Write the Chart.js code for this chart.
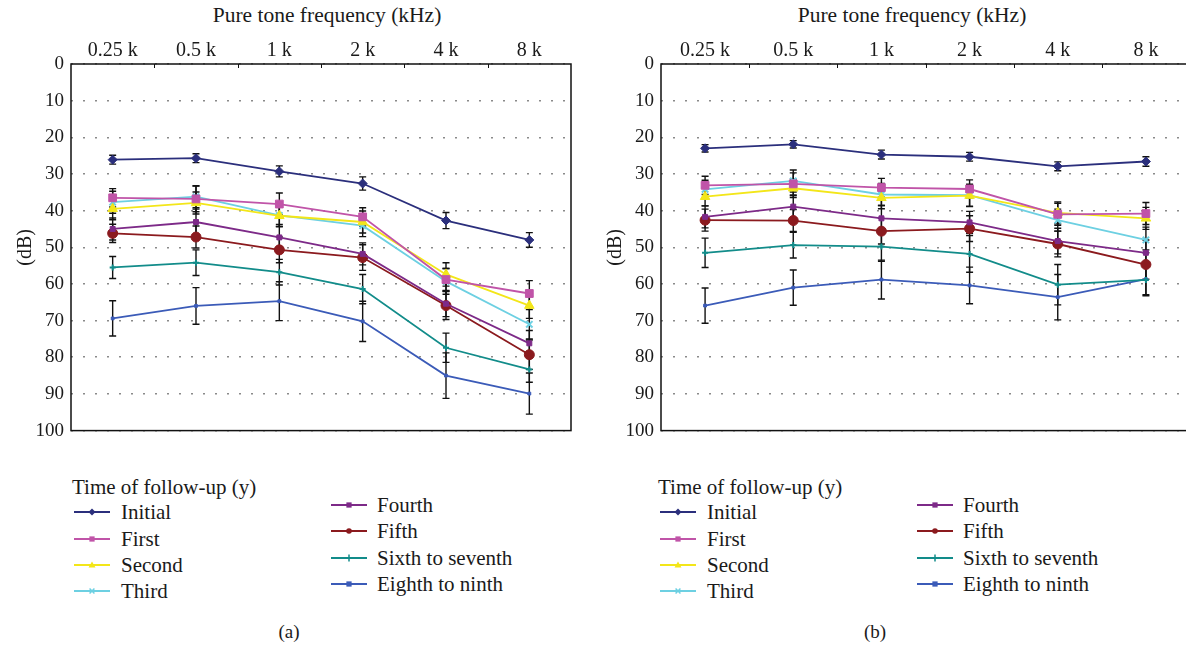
<!DOCTYPE html>
<html lang="en">
<head>
<meta charset="UTF-8">
<title>Pure tone thresholds by follow-up</title>
<script src="https://cdn.jsdelivr.net/npm/chart.js"></script>
<style>
    body { margin: 0; width: 1186px; height: 646px; overflow: hidden; background: #fff;
           font-family: "Liberation Serif", "DejaVu Serif", serif; color: #1a1a1a; position: relative; }
    canvas { position: absolute; top: 0; }
    #chartA { left: 0; }
    #chartB { left: 590px; }
    .axis-title { position: absolute; top: 3px; font-size: 21.5px; transform: translateX(-50%); white-space: nowrap; }
    .legend { position: absolute; top: 0; left: 0; }
    .leg-title, .leg-item, .caption { position: absolute; font-size: 21px; line-height: 24px; white-space: nowrap; }
    .leg-item canvas { position: absolute; top: 6px; }
    .caption { transform: translateX(-50%); font-size: 19px; }
</style>
</head>
<body>
<div class="axis-title" style="left:327px">Pure tone frequency (kHz)</div>
<div class="axis-title" style="left:912px">Pure tone frequency (kHz)</div>
<canvas id="chartA" width="600" height="449"></canvas>
<canvas id="chartB" width="610" height="449"></canvas>
<div id="legendA" class="legend"></div>
<div id="legendB" class="legend"></div>
<div class="caption" style="left:289px; top:620px">(a)</div>
<div class="caption" style="left:875px; top:620px">(b)</div>

<script>
// categories
const freqLabels = ['0.25 k', '0.5 k', '1 k', '2 k', '4 k', '8 k'];
const seriesNames = ['Initial', 'First', 'Second', 'Third', 'Fourth', 'Fifth', 'Sixth to seventh', 'Eighth to ninth'];

// panel (a) means (dB)
const aInitial = [26.1, 25.7, 29.3, 32.6, 42.7, 48.0];
const aFirst   = [36.5, 36.8, 38.2, 41.7, 58.8, 62.6];
const aSecond  = [39.5, 37.9, 41.4, 43.1, 57.4, 65.9];
const aThird   = [37.7, 36.2, 41.3, 44.1, 59.3, 71.0];
const aFourth  = [45.0, 43.1, 47.3, 51.8, 65.4, 76.2];
const aFifth   = [46.2, 47.2, 50.7, 52.8, 65.9, 79.3];
const aSixth   = [55.5, 54.2, 56.8, 61.4, 77.4, 83.3];
const aEighth  = [69.4, 66.0, 64.7, 70.2, 85.0, 89.9];
// panel (a) error bars (+/-)
const aInitialErr = [1.2, 1.2, 1.5, 1.8, 2.2, 2.0];
const aFirstErr   = [2.5, 3.5, 3.0, 2.5, 3.0, 3.5];
const aSecondErr  = [3.0, 3.0, 3.0, 3.0, 3.2, 3.5];
const aThirdErr   = [3.0, 3.0, 3.0, 3.0, 3.5, 4.0];
const aFourthErr  = [3.0, 3.5, 3.5, 3.0, 3.5, 3.5];
const aFifthErr   = [2.5, 3.0, 3.5, 3.5, 3.8, 4.0];
const aSixthErr   = [3.0, 3.5, 3.5, 4.0, 4.0, 3.5];
const aEighthErr  = [4.8, 5.0, 5.3, 5.5, 6.2, 5.6];

// panel (b) means (dB)
const bInitial = [23.0, 21.9, 24.7, 25.3, 27.9, 26.6];
const bFirst   = [33.1, 32.7, 33.7, 34.1, 41.0, 40.8];
const bSecond  = [36.2, 33.9, 36.5, 35.9, 40.6, 42.1];
const bThird   = [34.2, 31.9, 35.6, 35.8, 42.6, 48.0];
const bFourth  = [41.7, 38.9, 42.1, 43.2, 48.3, 51.5];
const bFifth   = [42.6, 42.7, 45.6, 44.9, 49.1, 54.7];
const bSixth   = [51.5, 49.4, 49.8, 51.8, 60.2, 58.9];
const bEighth  = [65.9, 61.0, 58.8, 60.4, 63.6, 58.7];
// panel (b) error bars (+/-)
const bInitialErr = [1.0, 1.0, 1.2, 1.2, 1.2, 1.3];
const bFirstErr   = [2.5, 3.0, 2.5, 2.5, 3.0, 3.0];
const bSecondErr  = [2.5, 2.5, 3.0, 3.0, 3.0, 3.0];
const bThirdErr   = [2.5, 3.0, 3.0, 3.0, 3.0, 3.5];
const bFourthErr  = [3.0, 3.0, 3.5, 3.0, 3.5, 3.5];
const bFifthErr   = [3.0, 3.0, 3.5, 3.5, 3.5, 4.0];
const bSixthErr   = [4.0, 3.5, 4.0, 5.0, 5.5, 4.0];
const bEighthErr  = [4.8, 4.8, 5.3, 5.0, 6.2, 4.5];

// series styles
const colors = ['#2b2f7c', '#c054a8', '#f3e619', '#6dd0e2', '#7d2a88', '#8b1a1e', '#128c8a', '#3b5bb8'];
const pointStyles = ['rectRot', 'rect', 'triangle', 'crossRot', 'rect', 'circle', 'cross', 'rect'];
const pointSizes = [4.5, 5.5, 5.5, 4.5, 3.5, 5, 3, 2];

const serif = 'Liberation Serif';

// error bars + frame + top ticks
const framePlugin = {
    id: 'frame',
    beforeDatasetsDraw(chart) {
        const ctx = chart.ctx;
        const yScale = chart.scales.y;
        ctx.save();
        ctx.strokeStyle = '#111';
        ctx.lineWidth = 1.4;
        chart.data.datasets.forEach((ds, i) => {
            const meta = chart.getDatasetMeta(i);
            ds.errors.forEach((e, j) => {
                const x = meta.data[j].x;
                const y1 = yScale.getPixelForValue(ds.data[j] - e);
                const y2 = yScale.getPixelForValue(ds.data[j] + e);
                ctx.beginPath();
                ctx.moveTo(x, y1); ctx.lineTo(x, y2);
                ctx.moveTo(x - 3.5, y1); ctx.lineTo(x + 3.5, y1);
                ctx.moveTo(x - 3.5, y2); ctx.lineTo(x + 3.5, y2);
                ctx.stroke();
            });
        });
        ctx.restore();
    },
    afterDraw(chart) {
        const ctx = chart.ctx;
        const a = chart.chartArea;
        const xs = chart.scales.x;
        ctx.save();
        ctx.strokeStyle = '#111';
        ctx.lineWidth = 1.5;
        ctx.strokeRect(a.left, a.top, a.right - a.left, a.bottom - a.top);
        ctx.lineWidth = 1;
        ctx.beginPath();
        for (let i = 1; i < freqLabels.length; i++) {
            const x = Math.round((xs.getPixelForTick(i - 1) + xs.getPixelForTick(i)) / 2) + 0.5;
            ctx.moveTo(x, a.top); ctx.lineTo(x, a.top + 4);
        }
        ctx.stroke();
        ctx.restore();
    }
};

function makeChart(id, means, errs, padRight) {
    const datasets = means.map((m, i) => ({
        label: seriesNames[i],
        data: m,
        errors: errs[i],
        borderColor: colors[i],
        backgroundColor: colors[i],
        borderWidth: 1.8,
        pointStyle: pointStyles[i],
        pointRadius: pointSizes[i],
        pointBorderWidth: pointStyles[i].startsWith('cross') ? 2 : 1,
        tension: 0
    }));
    return new Chart(document.getElementById(id), {
        type: 'line',
        data: { labels: freqLabels, datasets: datasets },
        options: {
            responsive: false,
            animation: false,
            devicePixelRatio: 1,
            layout: { padding: { top: 0, right: padRight, bottom: 0, left: 0 } },
            plugins: { legend: { display: false }, tooltip: { enabled: false } },
            scales: {
                x: {
                    type: 'category',
                    position: 'top',
                    offset: true,
                    grid: { display: false },
                    border: { display: false },
                    ticks: { color: '#1a1a1a', font: { family: serif, size: 20 }, padding: -7, maxRotation: 0, autoSkip: false },
                    afterFit(s) { s.height = 64; }
                },
                y: {
                    min: 0, max: 100, reverse: true,
                    ticks: { stepSize: 10, color: '#1a1a1a', font: { family: serif, size: 19 }, padding: 7 },
                    grid: { color: '#8a8a8a', lineWidth: 1.6, drawTicks: false },
                    border: { display: false, dash: [2, 10] },
                    title: { display: true, text: '(dB)', color: '#1a1a1a', font: { family: serif, size: 20 }, padding: { top: 14 } },
                    afterFit(s) { s.width = 71; }
                }
            }
        },
        plugins: [framePlugin]
    });
}

makeChart('chartA',
    [aInitial, aFirst, aSecond, aThird, aFourth, aFifth, aSixth, aEighth],
    [aInitialErr, aFirstErr, aSecondErr, aThirdErr, aFourthErr, aFifthErr, aSixthErr, aEighthErr], 29);
makeChart('chartB',
    [bInitial, bFirst, bSecond, bThird, bFourth, bFifth, bSixth, bEighth],
    [bInitialErr, bFirstErr, bSecondErr, bThirdErr, bFourthErr, bFifthErr, bSixthErr, bEighthErr], 10);

// legend sample marker
function drawMarker(ctx, style, x, y, r, color) {
    ctx.fillStyle = color; ctx.strokeStyle = color; ctx.lineWidth = 1.5;
    ctx.beginPath();
    if (style === 'rectRot') { ctx.moveTo(x, y - r); ctx.lineTo(x + r, y); ctx.lineTo(x, y + r); ctx.lineTo(x - r, y); ctx.closePath(); ctx.fill(); }
    else if (style === 'rect') { ctx.rect(x - r * 0.75, y - r * 0.75, r * 1.5, r * 1.5); ctx.fill(); }
    else if (style === 'triangle') { ctx.moveTo(x, y - r); ctx.lineTo(x + r, y + r * 0.7); ctx.lineTo(x - r, y + r * 0.7); ctx.closePath(); ctx.fill(); }
    else if (style === 'circle') { ctx.arc(x, y, r * 0.8, 0, Math.PI * 2); ctx.fill(); }
    else if (style === 'crossRot') { ctx.moveTo(x - r * 0.7, y - r * 0.7); ctx.lineTo(x + r * 0.7, y + r * 0.7); ctx.moveTo(x + r * 0.7, y - r * 0.7); ctx.lineTo(x - r * 0.7, y + r * 0.7); ctx.stroke(); }
    else if (style === 'cross') { ctx.moveTo(x - r, y); ctx.lineTo(x + r, y); ctx.moveTo(x, y - r); ctx.lineTo(x, y + r); ctx.stroke(); }
}

// column-first legend, two columns
const legCol1Y = [512, 539, 565, 591];
const legCol2Y = [505, 531, 558, 584];
function buildLegend(id, dx) {
    const box = document.getElementById(id);
    const t = document.createElement('div');
    t.className = 'leg-title';
    t.style.left = (72 + dx) + 'px';
    t.style.top = (487 - 12) + 'px';
    t.textContent = 'Time of follow-up (y)';
    box.appendChild(t);
    seriesNames.forEach((name, i) => {
        const col2 = i >= 4;
        const cy = col2 ? legCol2Y[i - 4] : legCol1Y[i];
        const sx = (col2 ? 331 : 74) + dx;
        const tx = (col2 ? 377 : 121) + dx;
        const c = document.createElement('canvas');
        c.width = 36; c.height = 12;
        c.style.left = sx + 'px';
        c.style.top = (cy - 6) + 'px';
        const ctx = c.getContext('2d');
        ctx.strokeStyle = colors[i]; ctx.lineWidth = 2;
        ctx.beginPath(); ctx.moveTo(0, 6); ctx.lineTo(36, 6); ctx.stroke();
        drawMarker(ctx, pointStyles[i], 18, 6, 3.5, colors[i]);
        box.appendChild(c);
        const d = document.createElement('div');
        d.className = 'leg-item';
        d.style.left = tx + 'px';
        d.style.top = (cy - 12) + 'px';
        d.textContent = name;
        box.appendChild(d);
    });
}
buildLegend('legendA', 0);
buildLegend('legendB', 586);
</script>
</body>
</html>
